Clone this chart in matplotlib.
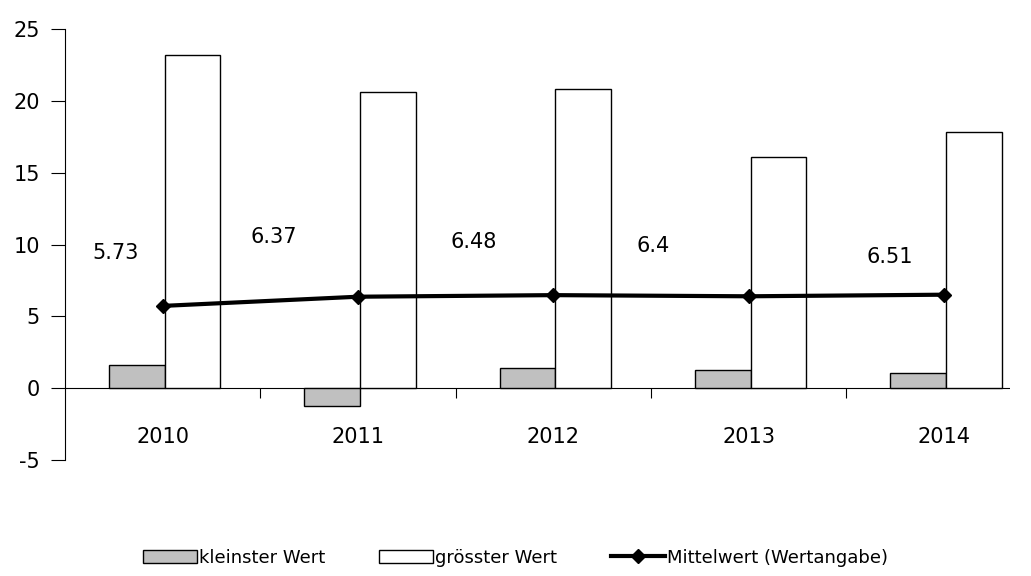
import matplotlib.pyplot as plt
import numpy as np

years = ["2010", "2011", "2012", "2013", "2014"]
kleinster = [1.6, -1.2, 1.4, 1.3, 1.1]
groesster = [23.2, 20.6, 20.8, 16.1, 17.8]
mittelwert = [5.73, 6.37, 6.48, 6.4, 6.51]
label_text = ["5.73", "6.37", "6.48", "6.4", "6.51"]

# label placement (x offset from category, y in data units)
label_dx = [-0.24, -0.43, -0.41, -0.49, -0.28]
label_y = [9.4, 10.5, 10.2, 9.9, 9.1]

plt.rcParams["font.family"] = ["DejaVu Sans"]
plt.rcParams["font.size"] = 13
plt.rcParams["axes.unicode_minus"] = False

fig = plt.figure(figsize=(10.31, 5.76), dpi=100)
ax = fig.add_axes([0.063, 0.201, 0.917, 0.749])

x = np.arange(len(years))
w = 0.285
b1 = ax.bar(x - w / 2 + 0.01, kleinster, w, color="#c0c0c0", edgecolor="black", linewidth=1,
            label="kleinster Wert", zorder=2)
b2 = ax.bar(x + w / 2 + 0.01, groesster, w, color="white", edgecolor="black", linewidth=1,
            label="grösster Wert", zorder=2)
l1, = ax.plot(x, mittelwert, color="black", linewidth=3, marker="D", markersize=7,
              label="Mittelwert (Wertangabe)", zorder=3)

for i, t in enumerate(label_text):
    ax.text(x[i] + label_dx[i], label_y[i], t, ha="center", va="center", fontsize=15)

ax.axhline(0, color="black", linewidth=0.8, zorder=1)
ax.vlines(np.arange(len(years) - 1) + 0.5, -0.7, 0, color="black", linewidth=0.8)
for i, y in enumerate(years):
    ax.text(x[i], -3.4, y, ha="center", va="center", fontsize=15)

ax.set_xlim(-0.5, 4.34)
ax.set_ylim(-5, 25)
ax.set_yticks(range(-5, 26, 5))
ax.set_xticks([])
ax.tick_params(axis="y", direction="out", length=10, labelsize=15, pad=8)
for s in ["top", "right", "bottom"]:
    ax.spines[s].set_visible(False)
ax.spines["left"].set_linewidth(0.8)

fig.legend([b1, b2, l1], ["kleinster Wert", "grösster Wert", "Mittelwert (Wertangabe)"],
           loc="lower center", ncol=3, frameon=False, fontsize=13,
           bbox_to_anchor=(0.5, -0.012), handlelength=3, columnspacing=3, handletextpad=0.1)

fig.savefig("out.png", dpi=100)
